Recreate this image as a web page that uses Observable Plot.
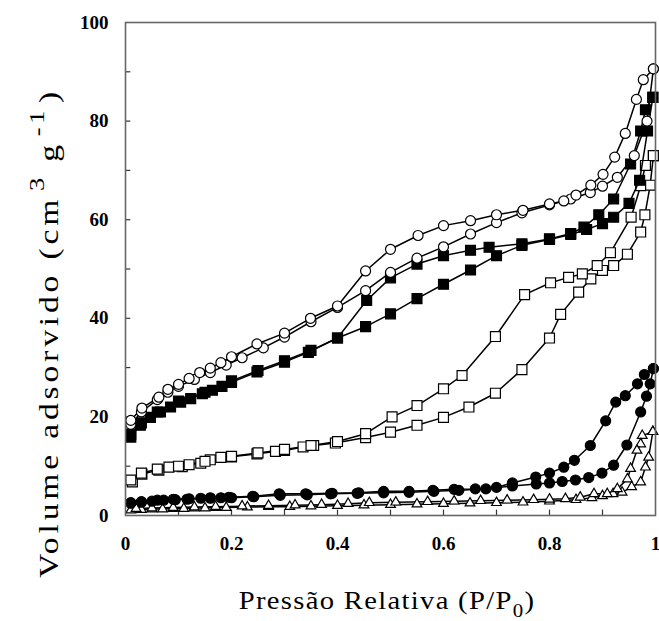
<!DOCTYPE html>
<html>
<head>
<meta charset="utf-8">
<script src="https://cdn.jsdelivr.net/npm/d3@7"></script>
<script src="https://cdn.jsdelivr.net/npm/@observablehq/plot@0.6"></script>
<style>
  body { margin: 0; background: #fff; }
</style>
</head>
<body>
<div id="chart"></div>
<script>
// ---- axis ticks and labels ----
const xTicks = [0.1, 0.2, 0.3, 0.4, 0.5, 0.6, 0.7, 0.8, 0.9];
const xTickLabels = [0, 0.2, 0.4, 0.6, 0.8, 1];
const yTicks = [10, 20, 30, 40, 50, 60, 70, 80, 90];
const yTickLabels = [0, 20, 40, 60, 80, 100];
const xTitle = "Pressão Relativa (P/P";
const xTitleSub = "0";
const yTitle = "Volume adsorvido (cm";
const yTitleSup1 = "3";
const yTitleMid = " g";
const yTitleSup2 = "-1";

// ---- open circles ----
const openCircleAds = [[0.01,18.5],[0.03,21],[0.06,23.5],[0.08,25],[0.10,26.2],[0.13,27.6],[0.16,29],[0.19,30.5],[0.22,32],[0.26,34],[0.30,36.2],[0.35,39.3],[0.40,42.2],[0.453,45.6],[0.50,49.3],[0.55,52.2],[0.60,54.5],[0.651,57.1],[0.70,59.4],[0.748,61.4],[0.80,63],[0.84,64.2],[0.877,65.5],[0.90,66.8],[0.928,68.6],[0.96,73],[0.984,80],[0.996,90.6]];
const openCircleDes = [[0.996,90.6],[0.977,88.4],[0.964,84.4],[0.943,77.5],[0.923,72.7],[0.901,69.2],[0.878,67],[0.85,65],[0.827,63.8],[0.80,63.2],[0.75,61.9],[0.70,61],[0.651,59.8],[0.60,58.8],[0.552,56.8],[0.50,54],[0.453,49.6],[0.40,42.5],[0.349,40],[0.30,37],[0.248,34.8],[0.20,32.2],[0.18,31],[0.16,29.9],[0.14,29],[0.12,27.8],[0.10,26.6],[0.08,25.6],[0.063,24],[0.031,21.8],[0.01,19.3]];

// ---- filled squares ----
const filledSquareAds = [[0.01,15.9],[0.028,18.3],[0.047,19.9],[0.066,21],[0.085,22],[0.104,23],[0.123,23.7],[0.145,24.7],[0.164,25.4],[0.182,26.2],[0.20,27],[0.248,29.1],[0.30,31.1],[0.345,33.1],[0.40,36],[0.453,38.3],[0.50,40.9],[0.55,44],[0.60,46.9],[0.651,49.8],[0.70,52.7],[0.748,54.8],[0.80,56],[0.84,57],[0.87,58],[0.90,59.2],[0.921,60.5],[0.95,63.3],[0.97,68],[0.985,78],[0.995,84.8]];
const filledSquareDes = [[0.995,84.8],[0.981,82.3],[0.972,78],[0.953,71.3],[0.921,64.2],[0.893,61],[0.865,58.5],[0.84,57.2],[0.80,56.1],[0.748,55.1],[0.686,54.4],[0.651,53.8],[0.60,52.7],[0.55,51],[0.50,48.2],[0.455,43.6],[0.40,36],[0.35,33.5],[0.30,31.4],[0.25,29.4],[0.20,27.3],[0.15,25],[0.10,23.2],[0.06,21],[0.03,18.8],[0.01,16.5]];

// ---- open squares ----
const openSquareAds = [[0.013,6.8],[0.031,8.4],[0.063,9.2],[0.082,9.8],[0.107,9.9],[0.12,10.3],[0.142,10.6],[0.16,11.3],[0.18,11.8],[0.20,11.9],[0.248,12.5],[0.283,13],[0.30,13.2],[0.335,13.9],[0.355,14.2],[0.396,14.7],[0.453,15.8],[0.50,16.9],[0.55,18.3],[0.60,19.9],[0.648,22],[0.698,24.8],[0.748,29.6],[0.80,36],[0.821,40.8],[0.855,45.3],[0.878,48],[0.90,49.7],[0.921,50.7],[0.947,53],[0.972,57.5],[0.98,61],[0.99,67],[0.996,73]];
const openSquareDes = [[0.996,73],[0.981,71],[0.972,66.9],[0.954,60.5],[0.915,53.3],[0.89,50.7],[0.862,49],[0.836,48.3],[0.802,47.2],[0.753,44.8],[0.698,36.3],[0.635,28.4],[0.60,25.7],[0.55,22.3],[0.503,20],[0.453,16.6],[0.40,15],[0.35,14.2],[0.30,13.4],[0.25,12.7],[0.20,12],[0.15,11],[0.10,10],[0.06,9.4],[0.03,8.6],[0.01,7.2]];

// ---- filled circles ----
const filledCircleAds = [[0.01,2.5],[0.03,2.7],[0.05,2.9],[0.072,3.1],[0.094,3.2],[0.116,3.3],[0.142,3.5],[0.16,3.5],[0.18,3.6],[0.20,3.6],[0.242,3.8],[0.292,4.1],[0.343,4.2],[0.387,4.4],[0.437,4.5],[0.487,4.6],[0.535,4.7],[0.582,4.9],[0.629,5.1],[0.68,5.4],[0.73,6],[0.775,6.4],[0.80,6.6],[0.824,6.9],[0.849,7.2],[0.874,7.7],[0.899,8.6],[0.921,10.2],[0.946,14.3],[0.972,21],[0.983,24.2],[0.99,26.7],[0.996,29.8]];
const filledCircleDes = [[0.996,29.8],[0.979,28.6],[0.966,26.7],[0.943,24.3],[0.925,23],[0.906,19.2],[0.877,14.2],[0.847,11.2],[0.827,9.8],[0.80,8.6],[0.774,7.8],[0.73,6.6],[0.70,5.7],[0.66,5.4],[0.62,5.3],[0.58,5.1],[0.535,4.9],[0.487,4.9],[0.44,4.6],[0.39,4.5],[0.34,4.4],[0.29,4.4],[0.24,3.9],[0.195,3.7],[0.16,3.6],[0.12,3.4],[0.09,3.3],[0.06,3.1],[0.03,2.8],[0.01,2.6]];

// ---- open triangles ----
const openTriangleAds = [[0.01,1.1],[0.03,1.2],[0.05,1.3],[0.07,1.3],[0.09,1.4],[0.11,1.4],[0.13,1.5],[0.15,1.5],[0.17,1.6],[0.19,1.6],[0.23,1.7],[0.27,1.8],[0.31,1.8],[0.35,1.9],[0.40,2.0],[0.45,2.1],[0.50,2.2],[0.55,2.3],[0.60,2.4],[0.65,2.5],[0.70,2.6],[0.75,2.7],[0.80,2.9],[0.85,3.2],[0.88,3.6],[0.90,4.0],[0.92,4.4],[0.937,4.7],[0.955,5.8],[0.972,6.8],[0.981,9.8],[0.987,11.8],[0.995,17]];
const openTriangleDes = [[0.995,17],[0.975,16.2],[0.972,14.5],[0.965,13.2],[0.953,9.5],[0.947,7.4],[0.928,5.4],[0.909,4.4],[0.884,4.4],[0.858,3.7],[0.83,3.4],[0.80,3.3],[0.77,3.2],[0.72,3.1],[0.67,3.0],[0.62,2.9],[0.57,2.8],[0.51,2.7],[0.46,2.6],[0.42,2.4],[0.37,2.2],[0.32,2.1],[0.27,2.0],[0.22,1.9],[0.17,1.8],[0.13,1.7],[0.09,1.6],[0.05,1.5],[0.02,1.4]];

const seriesList = [
  {id: "tri",  symbol: "triangle", fill: "white", r: 3.6, ads: openTriangleAds,  des: openTriangleDes},
  {id: "fcir", symbol: "circle",   fill: "black", r: 5,   ads: filledCircleAds,  des: filledCircleDes},
  {id: "osq",  symbol: "square",   fill: "white", r: 5.6, ads: openSquareAds,    des: openSquareDes},
  {id: "fsq",  symbol: "square",   fill: "black", r: 5.6, ads: filledSquareAds,  des: filledSquareDes},
  {id: "ocir", symbol: "circle",   fill: "white", r: 5,   ads: openCircleAds,    des: openCircleDes}
];

const marks = [];
for (const s of seriesList) {
  for (const [branch, pts] of [["ads", s.ads], ["des", s.des]]) {
    const rows = pts.map(([x, y]) => ({x, y}));
    marks.push(Plot.line(rows, {x: "x", y: "y", stroke: "black", strokeWidth: 1.5}));
  }
  const all = [...s.ads, ...s.des].map(([x, y]) => ({x, y}));
  marks.push(Plot.dot(all, {x: "x", y: "y", symbol: s.symbol, r: s.r, fill: s.fill, stroke: "black", strokeWidth: 1.2}));
}

const chart = Plot.plot({
  width: 659,
  height: 621,
  marginLeft: 125,
  marginRight: 4,
  marginTop: 22,
  marginBottom: 106,
  x: {domain: [0, 1], axis: null},
  y: {domain: [0, 100], axis: null},
  style: {fontFamily: "'Liberation Serif', 'Times New Roman', serif", background: "#fff", color: "#000", overflow: "visible"},
  marks: [
    Plot.ruleY(yTicks, {y: d => d, x1: 0, x2: 0.01, stroke: "#333", strokeWidth: 1.2}),
    Plot.ruleX(xTicks, {x: d => d, y1: 0, y2: 1.1, stroke: "#333", strokeWidth: 1.2}),
    ...marks,
    Plot.frame({stroke: "#666", strokeWidth: 1.6}),
    Plot.text(yTickLabels, {x: 0, y: d => d, text: d => String(d), textAnchor: "end", dx: -17, fontSize: 19, fontWeight: "bold"}),
    Plot.text(xTickLabels, {x: d => d, y: 0, text: d => String(d), dy: 28, fontSize: 19, fontWeight: "bold"})
  ]
});
document.getElementById("chart").appendChild(chart);

const svg = d3.select(chart);
// x title
const xt = svg.append("text")
  .attr("transform", "translate(387,609) scale(1.1,1)")
  .attr("text-anchor", "middle")
  .attr("font-size", 26)
  .attr("letter-spacing", 1.2)
  .attr("font-family", "'Liberation Serif', serif")
  .attr("fill", "#000");
xt.append("tspan").text(xTitle);
xt.append("tspan").attr("font-size", 19).attr("dy", 8).text(xTitleSub);
xt.append("tspan").attr("dy", -8).text(")");

// y title
const yt = svg.append("text")
  .attr("transform", "translate(58,333) rotate(-90) scale(1.2,1)")
  .attr("text-anchor", "middle")
  .attr("font-size", 28)
  .attr("letter-spacing", 3.2)
  .attr("font-family", "'Liberation Serif', serif")
  .attr("fill", "#000");
yt.append("tspan").text(yTitle);
yt.append("tspan").attr("font-size", 22).attr("dy", -14).attr("dx", 4).text(yTitleSup1);
yt.append("tspan").attr("dy", 14).text(yTitleMid);
yt.append("tspan").attr("font-size", 22).attr("dy", -14).attr("dx", 4).text(yTitleSup2);
yt.append("tspan").attr("dy", 14).attr("dx", 3).text(")");
</script>
</body>
</html>
